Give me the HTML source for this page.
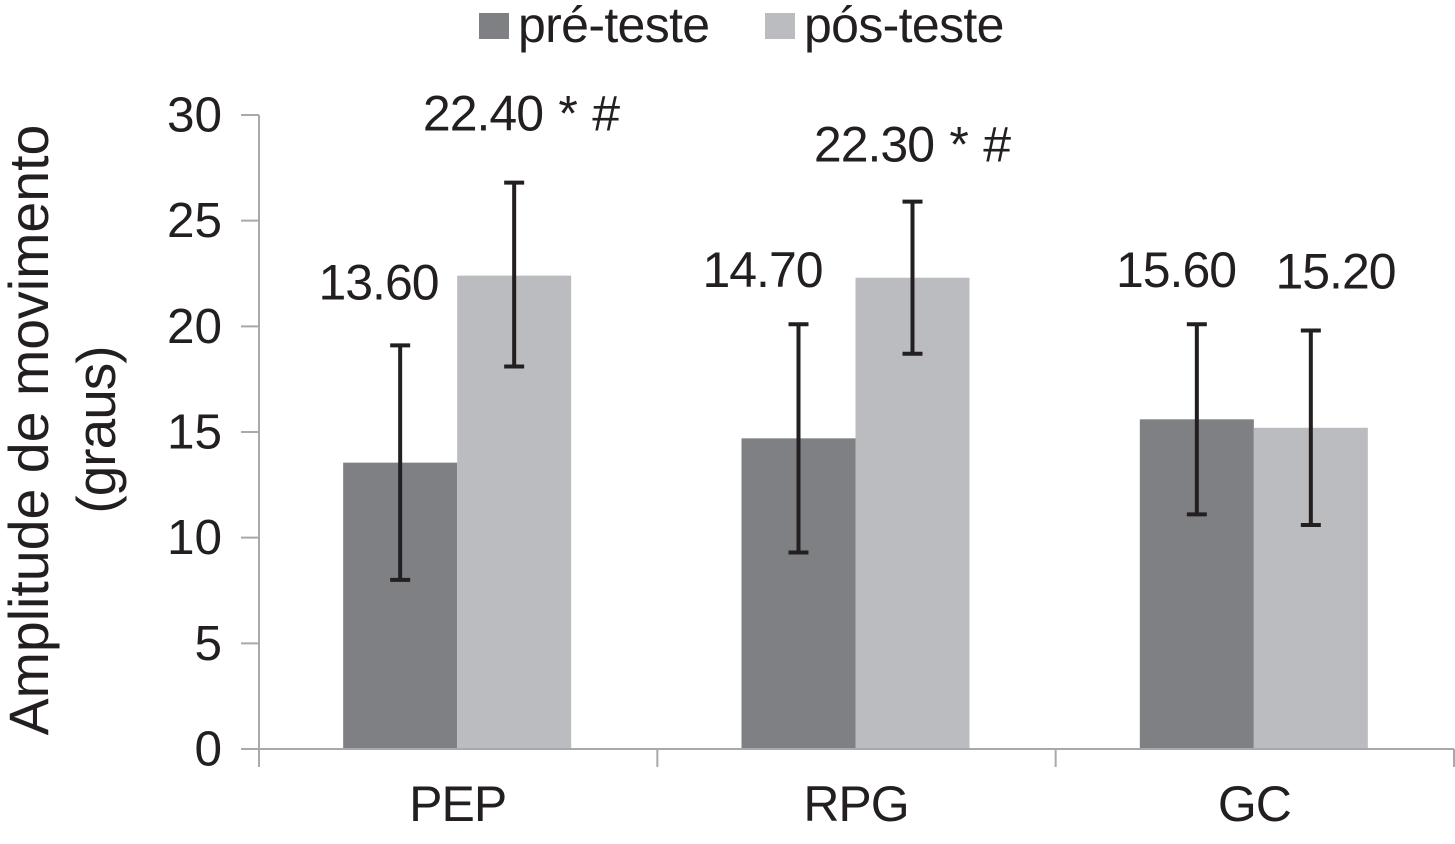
<!DOCTYPE html>
<html>
<head>
<meta charset="utf-8">
<style>
html,body{margin:0;padding:0;background:#fff;width:1455px;height:844px;overflow:hidden}
svg{display:block;font-family:"Liberation Sans",Arial,sans-serif}
</style>
</head>
<body>
<svg id="chart" width="1455" height="844" viewBox="0 0 1455 844"></svg>
<script>
const categories = ["PEP", "RPG", "GC"];
const preValues = [13.55, 14.7, 15.6];
const postValues = [22.4, 22.3, 15.2];
const preErrLow = [8.0, 9.3, 11.1];
const preErrHigh = [19.1, 20.1, 20.1];
const postErrLow = [18.1, 18.7, 10.6];
const postErrHigh = [26.8, 25.9, 19.8];
const preLabels = ["13.60", "14.70", "15.60"];
const postLabels = ["22.40 * #", "22.30 * #", "15.20"];
const yTicks = [0, 5, 10, 15, 20, 25, 30];
const seriesNames = ["pré-teste", "pós-teste"];

const svg = document.getElementById('chart');
const NS = 'http://www.w3.org/2000/svg';
const PRE = '#7f8084', POST = '#bbbcbf', INK = '#231f20', AXIS = '#a7a9ac';
const X0 = 259, X1 = 1454, Y0 = 749, YTOP = 115;
const y = v => Y0 - (v / 30) * (Y0 - YTOP);
const bandW = (X1 - X0) / categories.length;
const bandX = i => X0 + bandW * i;
const BAR = 114;

function add(tag, attrs, name, text) {
  const el = document.createElementNS(NS, tag);
  for (const k in attrs) el.setAttribute(k, attrs[k]);
  
  
  if (text !== undefined) el.textContent = text;
  svg.appendChild(el);
  return el;
}
function label(x, yy, s, name, anchor, ls, ws, size) {
  return add('text', {
    x: x, y: yy, 'font-size': size || 50, fill: INK, 'text-anchor': anchor || 'middle',
    'letter-spacing': ls || 0, 'word-spacing': ws || 0
  }, name, s);
}

// bars
categories.forEach((c, i) => {
  const mid = bandX(i) + bandW / 2 - 1;
  add('rect', {x: mid - BAR, y: y(preValues[i]), width: BAR, height: Y0 - y(preValues[i]), fill: PRE}, 'bar-pre-' + c.toLowerCase());
  add('rect', {x: mid, y: y(postValues[i]), width: BAR, height: Y0 - y(postValues[i]), fill: POST}, 'bar-post-' + c.toLowerCase());
});

// axes
add('line', {x1: X0, y1: YTOP, x2: X0, y2: Y0, stroke: AXIS, 'stroke-width': 2}, 'y-axis-line');
add('line', {x1: X0, y1: Y0, x2: X1, y2: Y0, stroke: AXIS, 'stroke-width': 2}, 'x-axis-line');
yTicks.forEach(t => {
  add('line', {x1: X0 - 18, y1: y(t), x2: X0, y2: y(t), stroke: AXIS, 'stroke-width': 2}, 'y-tick-' + t);
  label(222, y(t) + 16.5, String(t), 'y-tick-label-' + t, 'end', 0, 0, 49.5);
});
for (let i = 0; i <= categories.length; i++) {
  add('line', {x1: bandX(i), y1: Y0, x2: bandX(i), y2: Y0 + 18, stroke: AXIS, 'stroke-width': 2}, 'x-tick-' + i);
}
categories.forEach((c, i) => {
  label(bandX(i) + bandW / 2 - 0.5, 821, c, 'x-tick-label-' + c.toLowerCase(), 'middle', -1);
});

// error bars
function errBar(x, lo, hi, name) {
  add('line', {x1: x, y1: y(lo), x2: x, y2: y(hi), stroke: INK, 'stroke-width': 4}, name + '-stem');
  add('line', {x1: x - 10, y1: y(hi), x2: x + 10, y2: y(hi), stroke: INK, 'stroke-width': 4}, name + '-cap-top');
  add('line', {x1: x - 10, y1: y(lo), x2: x + 10, y2: y(lo), stroke: INK, 'stroke-width': 4}, name + '-cap-bottom');
}
categories.forEach((c, i) => {
  const mid = bandX(i) + bandW / 2 - 1;
  errBar(mid - BAR / 2, preErrLow[i], preErrHigh[i], 'error-bar-pre-' + c.toLowerCase());
  errBar(mid + BAR / 2, postErrLow[i], postErrHigh[i], 'error-bar-post-' + c.toLowerCase());
});

// value labels (placed relative to the top of each error bar)
categories.forEach((c, i) => {
  const preX = [378.5, 762.5, 1176][i];
  const postX = [521, 912, 1335.5][i];
  const preLift = [46, 37, 37][i];
  const postLift = [52, 40, 42][i];
  label(preX, y(preErrHigh[i]) - preLift, preLabels[i], 'value-label-pre-' + c.toLowerCase(), 'middle', -1);
  label(postX, y(postErrHigh[i]) - postLift, postLabels[i], 'value-label-post-' + c.toLowerCase(), 'middle', -1, 2.5);
});

// y axis title
add('text', {transform: 'translate(48,430) rotate(-90)', 'font-size': 55.5, fill: INK, 'text-anchor': 'middle'}, 'y-axis-title-line-1', 'Amplitude de movimento');
add('text', {transform: 'translate(115,430) rotate(-90)', 'font-size': 55, 'letter-spacing': -1, fill: INK, 'text-anchor': 'middle'}, 'y-axis-title-line-2', '(graus)');

// legend
add('rect', {x: 479, y: 13, width: 30, height: 26, fill: PRE}, 'legend-swatch-pre');
add('text', {x: 518, y: 42, 'font-size': 50, 'letter-spacing': -0.65, fill: INK}, 'legend-label-pre', seriesNames[0]);
add('rect', {x: 765, y: 13, width: 30, height: 26, fill: POST}, 'legend-swatch-post');
add('text', {x: 804, y: 42, 'font-size': 50, 'letter-spacing': -0.65, fill: INK}, 'legend-label-post', seriesNames[1]);
</script>
</body>
</html>
